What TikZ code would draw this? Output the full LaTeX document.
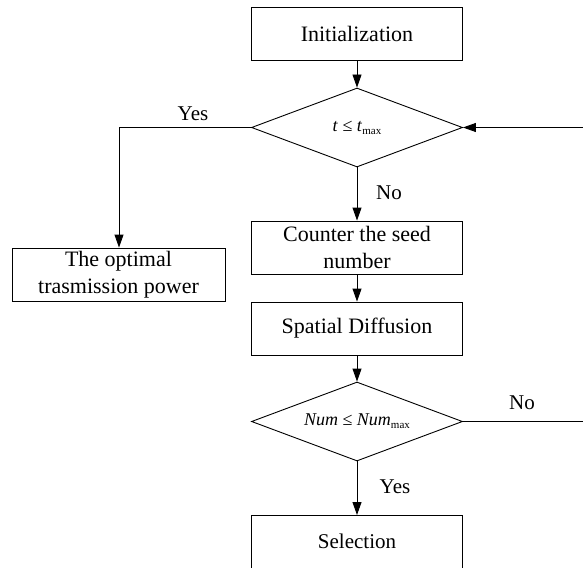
\documentclass[tikz,border=0pt]{standalone}
\usepackage{fontspec}
\setmainfont{Liberation Serif}
\usetikzlibrary{shapes.geometric,arrows.meta}
\begin{document}
\begin{tikzpicture}[x=1pt,y=1pt,
  box/.style={draw,line width=0.9pt,minimum width=211pt,minimum height=53pt,inner sep=0pt,align=center,font=\fontsize{22}{27}\selectfont},
  dec/.style={draw,diamond,shape aspect=2.67,line width=0.9pt,minimum width=211pt,minimum height=79pt,inner sep=0pt,font=\fontsize{18}{20}\selectfont},
  lbl/.style={font=\fontsize{21}{24}\selectfont,inner sep=0pt},
  arr/.style={line width=0.9pt,-{Triangle[length=13pt,width=9pt]}},
  ln/.style={line width=0.9pt}]
\useasboundingbox (0,0) rectangle (583,-567);
\clip (0,0) rectangle (583,-567);
\node[box] (init) at (357,-34) {Initialization};
\node[dec] (d1) at (357,-127.5) {\itshape t\/ \upshape≤ \itshape t\/\upshape\raisebox{-3pt}{\fontsize{11}{12}\selectfont max}};
\node[box] (counter) at (357,-247.5) {Counter the seed\\number};
\node[box] (spatial) at (357,-328.5) {Spatial Diffusion};
\node[dec] (d2) at (357,-421.5) {\itshape Num \upshape≤ \itshape Num\upshape\raisebox{-3pt}{\fontsize{11}{12}\selectfont max}};
\node[box,minimum height=64pt,anchor=north] (sel) at (357,-515) {};
\node[lbl] (seltext) at (357,-541) {Selection};
\node[box,minimum width=213pt] (opt) at (118.5,-274.5) {The optimal\\trasmission power};
\coordinate (r1) at (590,-127.5);
\coordinate (r2) at (590,-421.5);
\coordinate (bend) at (119,-127.5);
\draw[arr] (init) -- (d1);
\draw[arr] (d1) -- (counter);
\draw[arr] (counter) -- (spatial);
\draw[arr] (spatial) -- (d2);
\draw[arr] (d2) -- (sel);
\draw[arr] (r1) -- (d1.east);
\draw[ln] (d2.east) -- (r2);
\draw[arr] (d1.west) -- (bend) -- (opt.north -| bend);
\node[lbl] at (193,-114) {Yes};
\node[lbl] at (389,-193) {No};
\node[lbl] at (522,-403) {No};
\node[lbl] at (395,-487) {Yes};
\end{tikzpicture}
\end{document}
